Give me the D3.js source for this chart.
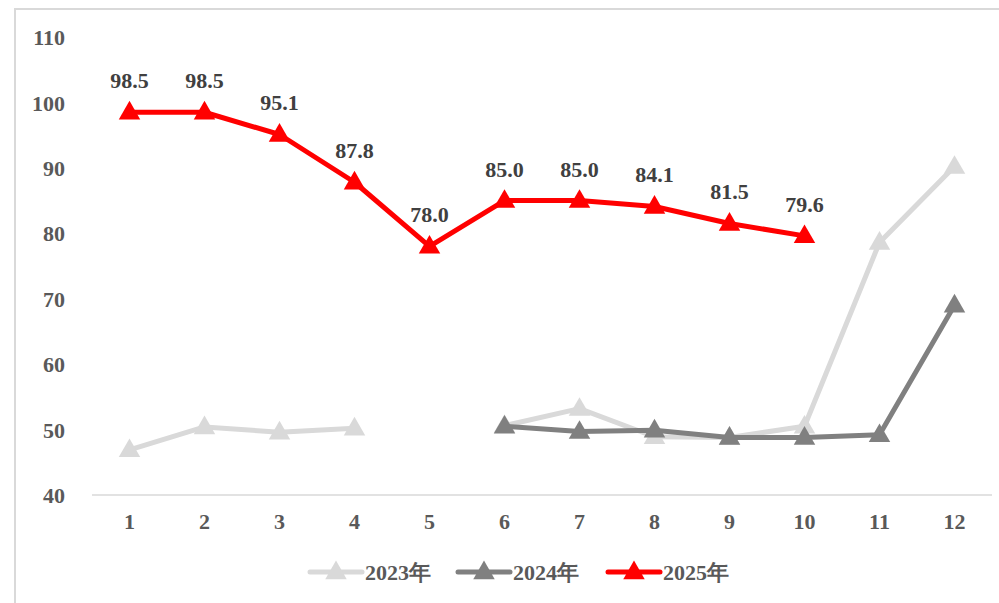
<!DOCTYPE html>
<html><head><meta charset="utf-8">
<script src="https://cdn.jsdelivr.net/npm/d3@7/dist/d3.min.js"></script>
<style>body{margin:0;background:#fff}svg{display:block}</style>
</head><body><svg id="c" width="999" height="603"></svg>
<script>
const months = [1,2,3,4,5,6,7,8,9,10,11,12];
const yTicks = [40,50,60,70,80,90,100,110];
const s2023 = [46.9,50.4,49.6,50.2,null,50.6,53.2,48.9,48.8,50.5,78.6,90.2];
const s2024 = [null,null,null,null,null,50.5,49.7,49.9,48.8,48.8,49.2,69.0];
const s2025 = [98.5,98.5,95.1,87.8,78.0,85.0,85.0,84.1,81.5,79.6,null,null];
const seriesNames = ["2023年","2024年","2025年"];
const colors = ["#D9D9D9","#808080","#FF0000"];

const svg = d3.select("#c");
const font = "'Liberation Serif','Times New Roman',serif";
const textColor = "#595959";
const fs = 22;

svg.append("rect").attr("x",15).attr("y",9).attr("width",1000).attr("height",620)
  .attr("fill","none").attr("stroke","#D9D9D9").attr("stroke-width",2);

const x = d3.scaleBand().domain(months).range([92,992]);
const y = d3.scaleLinear().domain([40,110]).range([495,37]);

svg.append("line").attr("x1",92).attr("x2",992).attr("y1",y(40)).attr("y2",y(40))
  .attr("stroke","#D9D9D9").attr("stroke-width",1.5);

const yAxis = d3.axisLeft(y).tickValues(yTicks).tickSize(0).tickPadding(0);
const gy = svg.append("g").attr("transform","translate(65,0)").call(yAxis);
gy.select(".domain").remove();
gy.selectAll("text").attr("font-family",font).attr("font-weight","bold")
  .attr("font-size",fs).attr("fill",textColor).attr("dy","0.35em");

const xAxis = d3.axisBottom(x).tickSize(0).tickPadding(0);
const gx = svg.append("g").attr("transform","translate(0,514)").call(xAxis);
gx.select(".domain").remove();
gx.selectAll("text").attr("font-family",font).attr("font-weight","bold")
  .attr("font-size",fs).attr("fill",textColor).attr("dy","0.7em");

const cx = m => x(m) + x.bandwidth()/2;
const tri = d3.symbol().type(d3.symbolTriangle).size(200);

const all = [s2023,s2024,s2025];
all.forEach((s,i) => {
  const pts = months.map((m,j)=>({m, v:s[j]}));
  const line = d3.line().defined(d=>d.v!=null).x(d=>cx(d.m)).y(d=>y(d.v));
  svg.append("path").datum(pts).attr("d",line).attr("fill","none")
    .attr("stroke",colors[i]).attr("stroke-width",5).attr("stroke-linejoin","round");
  svg.selectAll(null).data(pts.filter(d=>d.v!=null)).enter().append("path")
    .attr("d",tri).attr("fill",colors[i])
    .attr("transform",d=>`translate(${cx(d.m)},${y(d.v)+1})`);
});

svg.selectAll(null).data(months.map((m,j)=>({m,v:s2025[j]})).filter(d=>d.v!=null))
  .enter().append("text").attr("x",d=>cx(d.m)).attr("y",d=>y(d.v)-24)
  .attr("text-anchor","middle").attr("font-family",font).attr("font-weight","bold")
  .attr("font-size",fs).attr("fill","#404040").text(d=>d.v.toFixed(1));

const legX = [310,458,608];
seriesNames.forEach((n,i)=>{
  const g = svg.append("g").attr("transform",`translate(${legX[i]},572)`);
  g.append("line").attr("x1",0).attr("x2",52).attr("y1",0).attr("y2",0)
    .attr("stroke",colors[i]).attr("stroke-width",5).attr("stroke-linecap","round");
  g.append("path").attr("d",tri).attr("fill",colors[i]).attr("transform","translate(26,1)");
  g.append("text").attr("x",55).attr("y",0).attr("dy","0.35em")
    .attr("font-family",font).attr("font-weight","bold").attr("font-size",fs)
    .attr("fill",textColor).text(n);
});
</script></body></html>
